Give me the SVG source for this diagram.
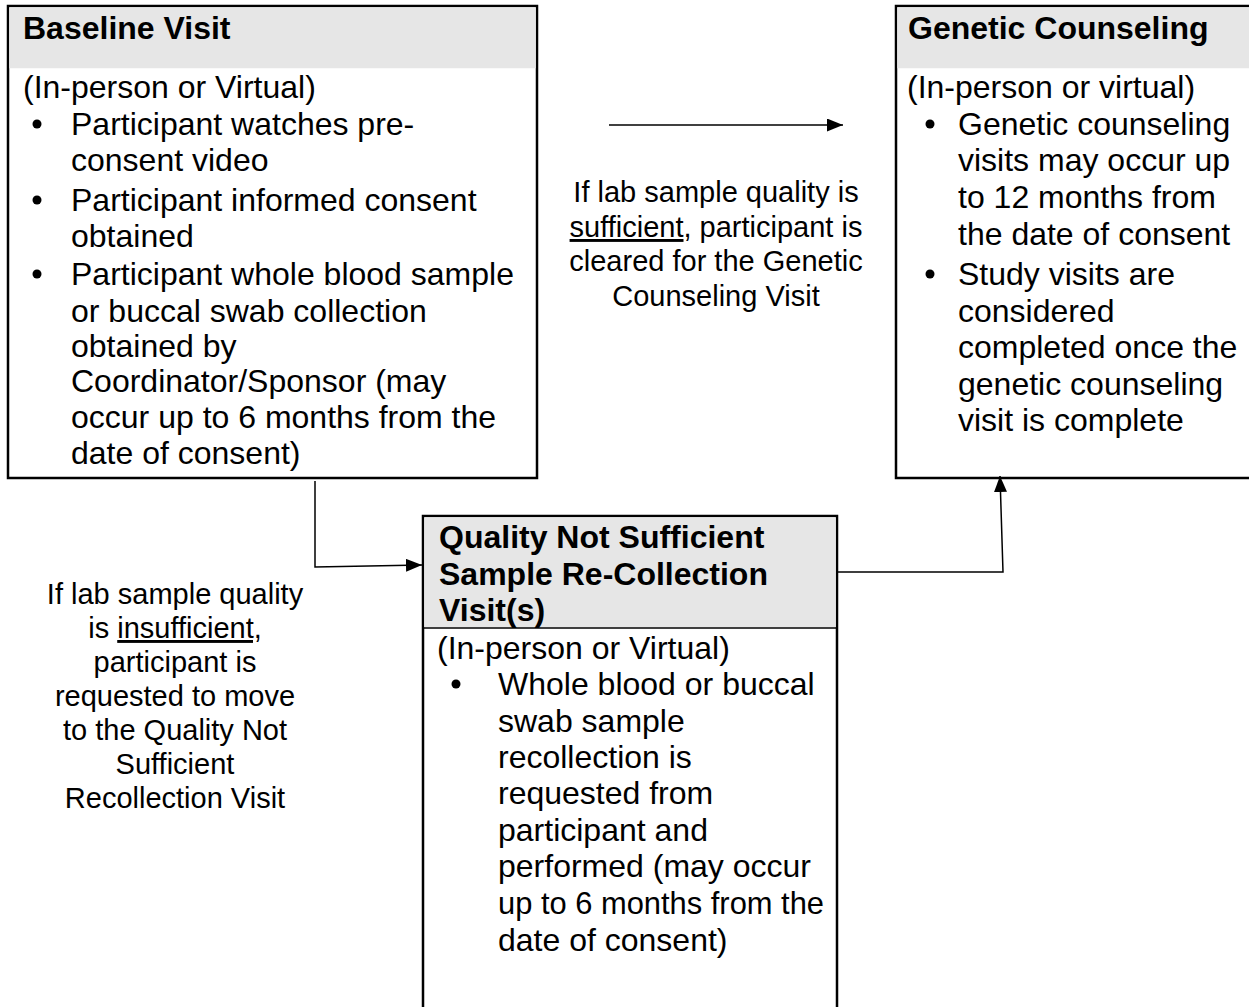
<svg xmlns="http://www.w3.org/2000/svg" width="1249" height="1007" viewBox="0 0 1249 1007">
<style>
text{font-family:"Liberation Sans",Arial,sans-serif;fill:#000}
.t{font-size:32px;font-weight:bold}
.b{font-size:32px}
.l{font-size:29px;text-anchor:middle}
.box{fill:#fff;stroke:#000;stroke-width:2.5}
.hd{fill:#e6e6e6}
.sep{stroke:#000;stroke-width:1.5}
.dot{fill:#000}
.c{fill:none;stroke:#000;stroke-width:1.5}
</style>
<defs>
<marker id="ah" viewBox="0 0 10 10" refX="10" refY="5" markerWidth="16" markerHeight="13" markerUnits="userSpaceOnUse" orient="auto" preserveAspectRatio="none">
<path d="M0,0 L10,5 L0,10 z" fill="#000"/>
</marker>
</defs>
<rect width="1249" height="1007" fill="#fff"/>

<g id="baseline-visit">
<rect class="box" x="8" y="6" width="529" height="472"/>
<rect class="hd" x="9.25" y="7.25" width="526.5" height="61"/>
<text class="t" x="23" y="39">Baseline Visit</text>
<text class="b" x="23" y="98">(In-person or Virtual)</text>
<circle class="dot" cx="37" cy="124" r="4.5"/>
<text class="b" x="71" y="135">Participant watches pre-</text>
<text class="b" x="71" y="171">consent video</text>
<circle class="dot" cx="37" cy="200" r="4.5"/>
<text class="b" x="71" y="211">Participant informed consent</text>
<text class="b" x="71" y="247">obtained</text>
<circle class="dot" cx="37" cy="274" r="4.5"/>
<text class="b" x="71" y="285">Participant whole blood sample</text>
<text class="b" x="71" y="322">or buccal swab collection</text>
<text class="b" x="71" y="357">obtained by</text>
<text class="b" x="71" y="392">Coordinator/Sponsor (may</text>
<text class="b" x="71" y="428">occur up to 6 months from the</text>
<text class="b" x="71" y="464">date of consent)</text>
</g>

<g id="genetic-counseling">
<rect class="box" x="896" y="6" width="360" height="472"/>
<rect class="hd" x="897.25" y="7.25" width="360" height="61"/>
<text class="t" x="908" y="39">Genetic Counseling</text>
<text class="b" x="907" y="98">(In-person or virtual)</text>
<circle class="dot" cx="930" cy="124" r="4.5"/>
<text class="b" x="958" y="135">Genetic counseling</text>
<text class="b" x="958" y="171">visits may occur up</text>
<text class="b" x="958" y="208">to 12 months from</text>
<text class="b" x="958" y="245">the date of consent</text>
<circle class="dot" cx="930" cy="274" r="4.5"/>
<text class="b" x="958" y="285">Study visits are</text>
<text class="b" x="958" y="322">considered</text>
<text class="b" x="958" y="358">completed once the</text>
<text class="b" x="958" y="395">genetic counseling</text>
<text class="b" x="958" y="431">visit is complete</text>
</g>

<g id="quality-not-sufficient">
<rect class="box" x="423" y="516" width="414" height="500"/>
<rect class="hd" x="424.25" y="517.25" width="411.5" height="110"/>
<line class="sep" x1="423" y1="628" x2="837" y2="628"/>
<text class="t" x="439" y="548">Quality Not Sufficient</text>
<text class="t" x="439" y="585">Sample Re-Collection</text>
<text class="t" x="439" y="621">Visit(s)</text>
<text class="b" x="437" y="659">(In-person or Virtual)</text>
<circle class="dot" cx="456" cy="684" r="4.5"/>
<text class="b" x="498" y="695">Whole blood or buccal</text>
<text class="b" x="498" y="732">swab sample</text>
<text class="b" x="498" y="768">recollection is</text>
<text class="b" x="498" y="804">requested from</text>
<text class="b" x="498" y="841">participant and</text>
<text class="b" x="498" y="877">performed (may occur</text>
<text class="b" x="498" y="914" textLength="326" lengthAdjust="spacingAndGlyphs">up to 6 months from the</text>
<text class="b" x="498" y="951">date of consent)</text>
</g>

<g id="connectors">
<line class="c" x1="609" y1="125" x2="843" y2="125" marker-end="url(#ah)"/>
<polyline class="c" points="315,481 315,567 422,565" marker-end="url(#ah)"/>
<polyline class="c" points="837,572 1003,572 1000,476" marker-end="url(#ah)"/>
</g>

<g id="label-sufficient">
<text class="l" x="716" y="202">If lab sample quality is</text>
<text class="l" x="716" y="237"><tspan text-decoration="underline">sufficient</tspan>, participant is</text>
<text class="l" x="716" y="271">cleared for the Genetic</text>
<text class="l" x="716" y="306">Counseling Visit</text>
</g>

<g id="label-insufficient">
<text class="l" x="175" y="604">If lab sample quality</text>
<text class="l" x="175" y="638">is <tspan text-decoration="underline">insufficient,</tspan></text>
<text class="l" x="175" y="672">participant is</text>
<text class="l" x="175" y="706">requested to move</text>
<text class="l" x="175" y="740">to the Quality Not</text>
<text class="l" x="175" y="774">Sufficient</text>
<text class="l" x="175" y="808">Recollection Visit</text>
</g>
</svg>
